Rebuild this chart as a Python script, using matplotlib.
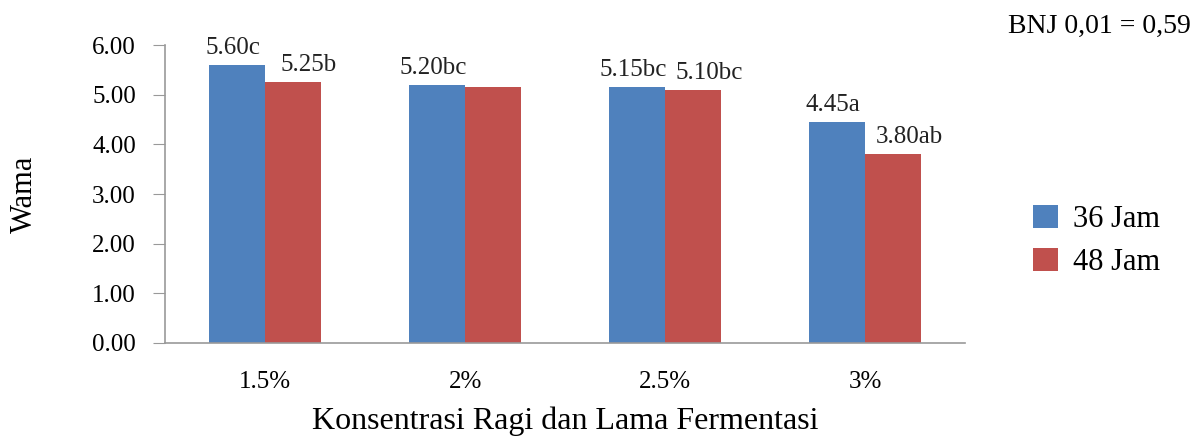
import numpy as np
import matplotlib.pyplot as plt

# data
kategori = ['1.5%', '2%', '2.5%', '3%']
jam36 = [5.60, 5.20, 5.15, 4.45]
jam48 = [5.25, 5.15, 5.10, 3.80]
# notasi BNJ (None = tidak ditampilkan di grafik asli)
notasi36 = ['c', 'bc', 'bc', 'a']
notasi48 = ['b', None, 'bc', 'ab']
yticks = [0, 1, 2, 3, 4, 5, 6]

plt.rcParams['font.family'] = ['Liberation Serif', 'DejaVu Serif']

fig = plt.figure(figsize=(12, 4.38), dpi=100)
ax = fig.add_axes([0.1375, 0.217, 0.667, 0.68])

x = np.arange(len(kategori))
w = 0.28
b1 = ax.bar(x - w / 2, jam36, w, color='#4F81BD', label='36 Jam')
b2 = ax.bar(x + w / 2, jam48, w, color='#C0504D', label='48 Jam')

for bars, vals, nts, dx in [(b1, jam36, notasi36, -0.02), (b2, jam48, notasi48, 0.08)]:
    for r, v, n in zip(bars, vals, nts):
        if n is None:
            continue
        ax.text(r.get_x() + r.get_width() / 2 + dx, v + 0.12, f'{v:.2f}{n}',
                ha='center', va='bottom', fontsize=18, color='#222222')

ax.set_xlim(-0.5, len(kategori) - 0.5)
ax.set_ylim(0, 6)
ax.set_yticks(yticks)
ax.set_yticklabels([f'{t:.2f}' for t in yticks], fontsize=18)
ax.set_xticks(x)
ax.set_xticklabels(kategori, fontsize=18)
ax.tick_params(axis='x', length=0, pad=20)
ax.tick_params(axis='y', length=9, color='#999999', pad=12)

for s in ['top', 'right']:
    ax.spines[s].set_visible(False)
for s in ['left', 'bottom']:
    ax.spines[s].set_color('#999999')
    ax.spines[s].set_linewidth(1.2)

ax.set_xlabel('Konsentrasi Ragi dan Lama Fermentasi', fontsize=23, labelpad=10)
ax.set_ylabel('Wama', fontsize=22, labelpad=38)

fig.text(0.992, 0.94, 'BNJ 0,01 = 0,59', ha='right', va='center', fontsize=20)

leg = fig.legend(loc='center left', bbox_to_anchor=(0.838, 0.45), frameon=False,
                 fontsize=22, handlelength=0.8, handleheight=0.8, handletextpad=0.5,
                 labelspacing=0.45)

fig.savefig('out.png', dpi=100)
